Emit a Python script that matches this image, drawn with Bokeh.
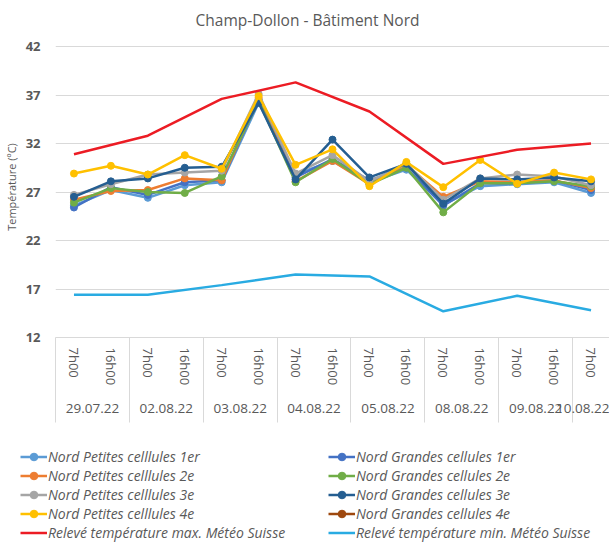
import math
from bokeh.plotting import figure
from bokeh.layouts import column
from bokeh.models import Range1d, FixedTicker, LinearAxis, Legend, LegendItem, ColumnDataSource
from bokeh.embed import file_html
from bokeh.resources import INLINE

# ---------------- data ----------------
dates = ["29.07.22", "29.07.22", "02.08.22", "02.08.22", "03.08.22", "03.08.22",
         "04.08.22", "04.08.22", "05.08.22", "05.08.22", "08.08.22", "08.08.22",
         "09.08.22", "09.08.22", "10.08.22"]
times = ["7h00", "16h00", "7h00", "16h00", "7h00", "16h00", "7h00", "16h00",
         "7h00", "16h00", "7h00", "16h00", "7h00", "16h00", "7h00"]

petites_1er = [25.6, 27.2, 26.4, 27.7, 28.0, 36.2, 28.8, 30.2, 28.0, 29.3, 25.7, 27.6, 27.8, 28.0, 26.9]
grandes_1er = [25.4, 27.5, 26.7, 28.0, 28.2, 36.5, 28.5, 30.4, 28.2, 29.5, 25.6, 27.9, 27.9, 28.2, 27.2]
petites_2e = [26.2, 27.1, 27.2, 28.4, 28.2, 36.7, 28.1, 30.2, 27.8, 29.8, 26.5, 28.1, 28.0, 28.2, 27.4]
grandes_2e = [25.9, 27.4, 27.0, 26.9, 28.6, 36.4, 28.0, 30.4, 27.8, 29.5, 24.9, 27.9, 27.9, 28.1, 27.6]
petites_3e = [26.7, 27.8, 28.8, 29.0, 29.2, 37.1, 28.9, 30.8, 28.1, 29.9, 26.2, 28.4, 28.8, 28.6, 27.7]
grandes_3e = [26.5, 28.1, 28.4, 29.5, 29.6, 36.2, 28.3, 32.4, 28.5, 29.9, 25.8, 28.4, 28.3, 28.5, 28.1]
petites_4e = [28.9, 29.7, 28.8, 30.8, 29.4, 36.9, 29.8, 31.4, 27.6, 30.1, 27.5, 30.3, 27.85, 29.0, 28.3]
grandes_4e = [None] * 15
meteo_max = [30.9, None, 32.8, None, 36.6, None, 38.3, None, 35.3, None, 29.9, None, 31.35, None, 32.0]
meteo_min = [16.4, None, 16.4, None, 17.4, None, 18.5, None, 18.3, None, 14.7, None, 16.3, None, 14.8]

y_ticks = [12, 17, 22, 27, 32, 37, 42]

cell_series = [
    ("Nord Petites celllules 1er", petites_1er, "#5B9BD5"),
    ("Nord Grandes cellules 1er", grandes_1er, "#4472C4"),
    ("Nord Petites celllules 2e", petites_2e, "#ED7D31"),
    ("Nord Grandes cellules 2e", grandes_2e, "#70AD47"),
    ("Nord Petites celllules 3e", petites_3e, "#A5A5A5"),
    ("Nord Grandes cellules 3e", grandes_3e, "#255E91"),
    ("Nord Petites celllules 4e", petites_4e, "#FFC000"),
    ("Nord Grandes cellules 4e", grandes_4e, "#9E480E"),
]
meteo_series = [
    ("Relevé température max. Météo Suisse", meteo_max, "#EC1C24"),
    ("Relevé température min. Météo Suisse", meteo_min, "#29ABE2"),
]

FONT = "Open Sans"
TXT = "#595959"
GRID = "#D9D9D9"
LW = 2.5
MS = 7

n = len(times)
xs = [i + 0.5 for i in range(n)]


def to_nan(vals):
    return [float("nan") if v is None else v for v in vals]


# ---------------- chart ----------------
# frame top sits 10 px above the 42 grid line, leaving room for the title
p = figure(width=609, height=430, output_backend="svg", toolbar_location=None,
           x_range=Range1d(0, n), y_range=Range1d(12, 42 + 10 * 30 / 291),
           min_border_left=55, min_border_right=0, min_border_top=36, min_border_bottom=93)
p.outline_line_color = None
p.background_fill_color = "white"
p.border_fill_color = "white"

p.title.text = "Champ-Dollon - Bâtiment Nord"
p.title.align = "left"
p.title.offset = 140
p.title.standoff = 12
p.title.text_font = FONT
p.title.text_font_size = "15.5px"
p.title.text_font_style = "normal"
p.title.text_color = TXT

# y axis
p.yaxis.ticker = FixedTicker(ticks=y_ticks)
p.ygrid.ticker = FixedTicker(ticks=y_ticks)
p.ygrid.grid_line_color = GRID
p.xgrid.grid_line_color = None
p.yaxis.axis_line_color = None
p.yaxis.major_tick_line_color = None
p.yaxis.minor_tick_line_color = None
p.yaxis.major_tick_out = 0
p.yaxis.major_tick_in = 0
p.yaxis.minor_tick_out = 0
p.yaxis.minor_tick_in = 0
p.yaxis.major_label_standoff = 15
p.yaxis.major_label_text_font = FONT
p.yaxis.major_label_text_font_style = "bold"
p.yaxis.major_label_text_font_size = "13px"
p.yaxis.major_label_text_color = TXT
p.yaxis.axis_label = "Température (ºC)"
p.yaxis.axis_label_text_font = FONT
p.yaxis.axis_label_text_font_size = "11px"
p.yaxis.axis_label_text_font_style = "normal"
p.yaxis.axis_label_text_color = TXT
p.yaxis.axis_label_standoff = 4

# x axis: times, with date separators drawn as minor ticks
bounds = [i for i in range(n) if i == 0 or dates[i] != dates[i - 1]]
xa = p.xaxis[0]
xa.ticker = FixedTicker(ticks=xs, minor_ticks=[float(b) for b in bounds])
xa.major_label_overrides = {x: t for x, t in zip(xs, times)}
xa.major_label_orientation = "vertical"
xa.major_label_text_font = FONT
xa.major_label_text_font_size = "13px"
xa.major_label_text_color = TXT
xa.major_label_standoff = -75
xa.major_tick_line_color = None
xa.major_tick_out = 0
xa.major_tick_in = 0
xa.minor_tick_line_color = GRID
xa.minor_tick_out = 85
xa.minor_tick_in = 0
xa.axis_line_color = GRID

# x axis: dates
group_starts = bounds + [n]
centers = [(group_starts[k] + group_starts[k + 1]) / 2 for k in range(len(bounds))]
group_names = [dates[b] for b in bounds]
xb = LinearAxis(ticker=FixedTicker(ticks=centers, minor_ticks=[]),
                major_label_overrides={c: d for c, d in zip(centers, group_names)})
xb.axis_line_color = None
xb.major_tick_line_color = None
xb.minor_tick_line_color = None
xb.major_tick_out = 0
xb.major_tick_in = 0
xb.minor_tick_out = 0
xb.major_label_standoff = 15
xb.major_label_text_font = FONT
xb.major_label_text_font_size = "13.5px"
xb.major_label_text_color = TXT
p.add_layout(xb, "below")

for name, vals, color in cell_series:
    src = ColumnDataSource(dict(x=xs, y=to_nan(vals)))
    p.line("x", "y", source=src, line_color=color, line_width=LW)
    p.scatter("x", "y", source=src, size=MS, marker="circle",
              fill_color=color, line_color=color)

for name, vals, color in meteo_series:
    px = [x for x, v in zip(xs, vals) if v is not None]
    py = [v for v in vals if v is not None]
    p.line(px, py, line_color=color, line_width=LW)

# ---------------- legend strip (same series, outside its visible range) ----------------
lg = figure(frame_width=609, frame_height=113, output_backend="svg", toolbar_location=None,
            x_axis_type=None, y_axis_type=None,
            x_range=Range1d(0, n), y_range=Range1d(0, 1),
            min_border_left=0, min_border_right=0, min_border_top=0, min_border_bottom=0)
if "frame_align" in lg.properties():
    lg.frame_align = False
lg.outline_line_color = None
lg.xgrid.grid_line_color = None
lg.ygrid.grid_line_color = None
lg.background_fill_color = "white"
lg.border_fill_color = "white"

items = []
for name, vals, color in cell_series:
    src = ColumnDataSource(dict(x=xs, y=to_nan(vals)))
    r1 = lg.line("x", "y", source=src, line_color=color, line_width=LW)
    r2 = lg.scatter("x", "y", source=src, size=MS, marker="circle",
                    fill_color=color, line_color=color)
    items.append(LegendItem(label=name, renderers=[r1, r2]))
for name, vals, color in meteo_series:
    src = ColumnDataSource(dict(x=xs, y=to_nan(vals)))
    r = lg.line("x", "y", source=src, line_color=color, line_width=LW)
    items.append(LegendItem(label=name, renderers=[r]))

legend = Legend(items=items, location=(20, 1), orientation="horizontal", ncols=2,
                glyph_width=27, glyph_height=19, label_height=19, label_width=280,
                label_standoff=1, spacing=0, padding=0, margin=0,
                border_line_color=None, background_fill_alpha=0,
                label_text_font=FONT, label_text_font_style="italic",
                label_text_font_size="14px", label_text_color=TXT)
lg.add_layout(legend, "center")

layout = column(p, lg, spacing=0)
open("out.html", "w").write(file_html(layout, INLINE))
